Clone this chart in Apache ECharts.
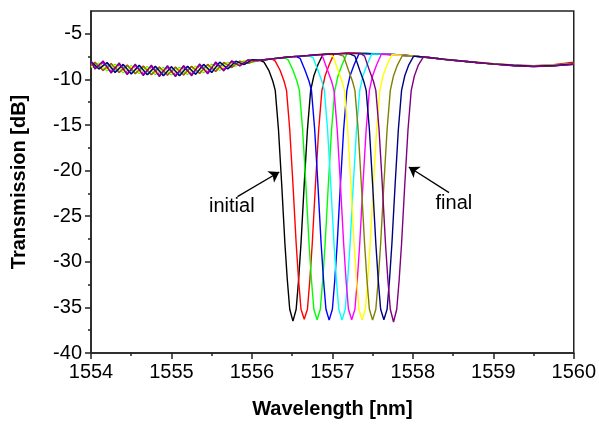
<!DOCTYPE html>
<html>
<head>
<meta charset="utf-8">
<script src="https://cdn.jsdelivr.net/npm/echarts@6/dist/echarts.min.js"></script>
<style>html,body{margin:0;padding:0;background:#fff;}#c{width:599px;height:424px;}</style>
</head>
<body>
<div id="c"></div>
<script>
// ---------- data (wavelength nm, transmission dB) ----------
const xTicks = [1554, 1555, 1556, 1557, 1558, 1559, 1560];
const yTicks = [-40, -35, -30, -25, -20, -15, -10, -5];
const yMinorTicks = [-37.5, -32.5, -27.5, -22.5, -17.5, -12.5, -7.5];

const seriesNames = ['s1','s2','s3','s4','s5','s6','s7','s8','s9','s10'];

const black = [[1554.0,-8.08],[1554.1,-8.82],[1554.2,-8.2],[1554.3,-9.2],[1554.4,-8.4],[1554.5,-9.35],[1554.6,-8.5],[1554.7,-9.45],[1554.8,-8.6],[1554.9,-9.55],[1555.0,-8.65],[1555.1,-9.55],[1555.2,-8.6],[1555.3,-9.4],[1555.4,-8.4],[1555.5,-9.2],[1555.6,-8.15],[1555.7,-8.81],[1555.8,-8.03],[1555.9,-8.35],[1556.0,-7.86],
[1556.1,-7.9],[1556.15,-8.1],[1556.21,-9.0],[1556.26,-10.2],[1556.29,-11.2],[1556.33,-15.5],[1556.37,-21.5],[1556.41,-28.0],[1556.44,-32.0],[1556.47,-35.2],[1556.51,-36.5],[1556.55,-35.2],[1556.58,-32.0],[1556.61,-28.0],[1556.65,-21.5],[1556.69,-15.5],[1556.73,-11.2],[1556.77,-9.6],[1556.82,-8.4],[1556.88,-7.3],
[1557.0,-7.2],[1557.2,-7.12],[1557.4,-7.15],[1557.6,-7.25],[1557.8,-7.3],[1558.0,-7.42],[1558.2,-7.6],[1558.4,-7.82],[1558.6,-7.98],[1558.8,-8.15],[1559.0,-8.3],[1559.25,-8.47],[1559.5,-8.55],[1559.75,-8.48],[1560.0,-8.3]];

const red = [[1554.0,-8.6],[1554.05,-8.13],[1554.15,-9.03],[1554.25,-8.25],[1554.35,-9.25],[1554.45,-8.43],[1554.55,-9.38],[1554.65,-8.53],[1554.75,-9.48],[1554.85,-8.63],[1554.95,-9.55],[1555.05,-8.65],[1555.15,-9.53],[1555.25,-8.55],[1555.35,-9.35],[1555.45,-8.35],[1555.55,-9.13],[1555.65,-8.13],[1555.75,-8.7],[1555.85,-8.0],[1555.95,-8.25],
[1556.05,-7.95],[1556.15,-7.85],[1556.25,-7.75],[1556.29,-8.0],[1556.35,-9.0],[1556.40,-10.2],[1556.43,-11.2],[1556.47,-15.5],[1556.51,-21.5],[1556.55,-28.0],[1556.58,-32.0],[1556.61,-35.2],[1556.65,-36.3],[1556.69,-35.2],[1556.72,-32.0],[1556.75,-28.0],[1556.79,-21.5],[1556.83,-15.5],[1556.87,-11.2],[1556.91,-9.6],[1556.96,-8.4],[1557.02,-7.2],
[1557.2,-7.1],[1557.4,-7.15],[1557.6,-7.2],[1557.8,-7.32],[1558.0,-7.45],[1558.2,-7.58],[1558.4,-7.8],[1558.6,-8.0],[1558.8,-8.12],[1559.0,-8.28],[1559.25,-8.42],[1559.5,-8.5],[1559.75,-8.4],[1560.0,-8.1]];

const green = [[1554.0,-8.68],[1554.1,-8.22],[1554.2,-9.05],[1554.3,-8.35],[1554.4,-9.25],[1554.5,-8.5],[1554.6,-9.35],[1554.7,-8.6],[1554.8,-9.45],[1554.9,-8.7],[1555.0,-9.5],[1555.1,-8.7],[1555.2,-9.45],[1555.3,-8.55],[1555.4,-9.25],[1555.5,-8.35],[1555.6,-9.0],[1555.7,-8.13],[1555.8,-8.54],[1555.9,-7.97],[1556.0,-8.12],
[1556.1,-7.9],[1556.2,-7.78],[1556.3,-7.68],[1556.4,-7.6],[1556.45,-7.85],[1556.51,-9.0],[1556.56,-10.2],[1556.59,-11.2],[1556.63,-15.5],[1556.67,-21.5],[1556.71,-28.0],[1556.74,-32.0],[1556.77,-35.2],[1556.81,-36.35],[1556.85,-35.2],[1556.88,-32.0],[1556.91,-28.0],[1556.95,-21.5],[1556.99,-15.5],[1557.03,-11.2],[1557.07,-9.6],[1557.12,-8.4],[1557.18,-7.2],
[1557.4,-7.12],[1557.6,-7.22],[1557.8,-7.3],[1558.0,-7.45],[1558.2,-7.62],[1558.4,-7.78],[1558.6,-7.95],[1558.8,-8.15],[1559.0,-8.32],[1559.25,-8.45],[1559.5,-8.52],[1559.75,-8.45],[1560.0,-8.25]];

const blue = [[1554.0,-8.2],[1554.05,-8.8],[1554.15,-8.08],[1554.25,-9.2],[1554.35,-8.3],[1554.45,-9.38],[1554.55,-8.43],[1554.65,-9.48],[1554.75,-8.53],[1554.85,-9.58],[1554.95,-8.6],[1555.05,-9.6],[1555.15,-8.58],[1555.25,-9.5],[1555.35,-8.4],[1555.45,-9.3],[1555.55,-8.18],[1555.65,-8.98],[1555.75,-8.03],[1555.85,-8.48],[1555.95,-7.9],
[1556.05,-7.95],[1556.15,-7.88],[1556.25,-7.75],[1556.35,-7.65],[1556.45,-7.55],[1556.55,-7.5],[1556.60,-7.7],[1556.66,-9.0],[1556.71,-10.2],[1556.74,-11.2],[1556.78,-15.5],[1556.82,-21.5],[1556.86,-28.0],[1556.89,-32.0],[1556.92,-35.2],[1556.96,-36.4],[1557.00,-35.2],[1557.03,-32.0],[1557.06,-28.0],[1557.10,-21.5],[1557.14,-15.5],[1557.18,-11.2],[1557.22,-9.6],[1557.27,-8.4],[1557.33,-7.2],
[1557.5,-7.18],[1557.7,-7.25],[1557.9,-7.35],[1558.1,-7.5],[1558.3,-7.7],[1558.5,-7.9],[1558.75,-8.12],[1559.0,-8.3],[1559.25,-8.48],[1559.5,-8.6],[1559.75,-8.5],[1560.0,-8.35]];

const cyan = [[1554.0,-8.15],[1554.1,-8.75],[1554.2,-8.3],[1554.3,-9.1],[1554.4,-8.5],[1554.5,-9.25],[1554.6,-8.6],[1554.7,-9.35],[1554.8,-8.7],[1554.9,-9.45],[1555.0,-8.75],[1555.1,-9.45],[1555.2,-8.7],[1555.3,-9.3],[1555.4,-8.5],[1555.5,-9.1],[1555.6,-8.25],[1555.7,-8.73],[1555.8,-8.09],[1555.9,-8.31],[1556.0,-7.9],
[1556.1,-7.88],[1556.2,-7.8],[1556.3,-7.7],[1556.4,-7.6],[1556.5,-7.5],[1556.6,-7.45],[1556.7,-7.38],[1556.76,-7.6],[1556.82,-9.0],[1556.87,-10.2],[1556.90,-11.2],[1556.94,-15.5],[1556.98,-21.5],[1557.02,-28.0],[1557.05,-32.0],[1557.08,-35.2],[1557.12,-36.4],[1557.16,-35.2],[1557.19,-32.0],[1557.22,-28.0],[1557.26,-21.5],[1557.30,-15.5],[1557.34,-11.2],[1557.38,-9.6],[1557.43,-8.4],[1557.49,-7.2],
[1557.7,-7.25],[1557.9,-7.38],[1558.1,-7.5],[1558.3,-7.72],[1558.5,-7.88],[1558.75,-8.1],[1559.0,-8.3],[1559.25,-8.45],[1559.5,-8.55],[1559.75,-8.45],[1560.0,-8.3]];

const magenta = [[1554.0,-8.3],[1554.05,-8.73],[1554.15,-8.18],[1554.25,-9.1],[1554.35,-8.4],[1554.45,-9.28],[1554.55,-8.53],[1554.65,-9.38],[1554.75,-8.63],[1554.85,-9.48],[1554.95,-8.7],[1555.05,-9.5],[1555.15,-8.68],[1555.25,-9.4],[1555.35,-8.5],[1555.45,-9.2],[1555.55,-8.28],[1555.65,-8.89],[1555.75,-8.1],[1555.85,-8.43],[1555.95,-7.93],
[1556.05,-7.95],[1556.15,-7.85],[1556.25,-7.75],[1556.35,-7.65],[1556.45,-7.55],[1556.55,-7.48],[1556.65,-7.42],[1556.75,-7.35],[1556.85,-7.28],[1556.88,-7.55],[1556.94,-9.0],[1556.99,-10.2],[1557.02,-11.2],[1557.06,-15.5],[1557.10,-21.5],[1557.14,-28.0],[1557.17,-32.0],[1557.20,-35.2],[1557.24,-36.35],[1557.28,-35.2],[1557.31,-32.0],[1557.34,-28.0],[1557.38,-21.5],[1557.42,-15.5],[1557.46,-11.2],[1557.50,-9.6],[1557.55,-8.4],[1557.61,-7.22],
[1557.8,-7.3],[1558.0,-7.43],[1558.2,-7.6],[1558.4,-7.8],[1558.6,-7.97],[1558.8,-8.15],[1559.0,-8.3],[1559.25,-8.45],[1559.5,-8.55],[1559.75,-8.5],[1560.0,-8.28]];

const yellow = [[1554.0,-8.61],[1554.1,-8.29],[1554.2,-8.95],[1554.3,-8.45],[1554.4,-9.15],[1554.5,-8.6],[1554.6,-9.25],[1554.7,-8.7],[1554.8,-9.35],[1554.9,-8.8],[1555.0,-9.4],[1555.1,-8.8],[1555.2,-9.35],[1555.3,-8.65],[1555.4,-9.15],[1555.5,-8.45],[1555.6,-8.9],[1555.7,-8.21],[1555.8,-8.48],[1555.9,-8.01],[1556.0,-8.09],
[1556.1,-7.9],[1556.2,-7.8],[1556.3,-7.7],[1556.4,-7.6],[1556.5,-7.5],[1556.6,-7.45],[1556.7,-7.38],[1556.8,-7.3],[1556.9,-7.25],[1556.95,-7.22],[1557.01,-7.5],[1557.07,-9.0],[1557.12,-10.2],[1557.15,-11.2],[1557.19,-15.5],[1557.23,-21.5],[1557.27,-28.0],[1557.30,-32.0],[1557.33,-35.2],[1557.37,-36.4],[1557.41,-35.2],[1557.44,-32.0],[1557.47,-28.0],[1557.51,-21.5],[1557.55,-15.5],[1557.59,-11.2],[1557.63,-9.6],[1557.68,-8.4],[1557.74,-7.3],
[1557.9,-7.37],[1558.1,-7.5],[1558.3,-7.7],[1558.5,-7.88],[1558.75,-8.1],[1559.0,-8.28],[1559.25,-8.45],[1559.5,-8.52],[1559.75,-8.45],[1560.0,-8.3]];

const olive = [[1554.0,-8.5],[1554.05,-8.17],[1554.15,-8.98],[1554.25,-8.3],[1554.35,-9.2],[1554.45,-8.48],[1554.55,-9.33],[1554.65,-8.58],[1554.75,-9.43],[1554.85,-8.68],[1554.95,-9.5],[1555.05,-8.7],[1555.15,-9.48],[1555.25,-8.6],[1555.35,-9.3],[1555.45,-8.4],[1555.55,-9.08],[1555.65,-8.17],[1555.75,-8.66],[1555.85,-8.03],[1555.95,-8.23],
[1556.05,-7.95],[1556.15,-7.85],[1556.25,-7.75],[1556.35,-7.65],[1556.45,-7.55],[1556.55,-7.48],[1556.65,-7.42],[1556.75,-7.35],[1556.85,-7.28],[1556.95,-7.22],[1557.05,-7.2],[1557.14,-7.45],[1557.20,-9.0],[1557.25,-10.2],[1557.28,-11.2],[1557.32,-15.5],[1557.36,-21.5],[1557.40,-28.0],[1557.43,-32.0],[1557.46,-35.2],[1557.50,-36.4],[1557.54,-35.2],[1557.57,-32.0],[1557.60,-28.0],[1557.64,-21.5],[1557.68,-15.5],[1557.72,-11.2],[1557.76,-9.6],[1557.81,-8.4],[1557.87,-7.38],
[1558.0,-7.45],[1558.2,-7.62],[1558.4,-7.8],[1558.6,-7.98],[1558.8,-8.15],[1559.0,-8.32],[1559.25,-8.48],[1559.5,-8.58],[1559.75,-8.5],[1560.0,-8.35]];

const navy = [[1554.0,-8.05],[1554.1,-8.85],[1554.2,-8.15],[1554.3,-9.25],[1554.4,-8.35],[1554.5,-9.4],[1554.6,-8.45],[1554.7,-9.5],[1554.8,-8.55],[1554.9,-9.6],[1555.0,-8.6],[1555.1,-9.6],[1555.2,-8.55],[1555.3,-9.45],[1555.4,-8.35],[1555.5,-9.25],[1555.6,-8.1],[1555.7,-8.85],[1555.8,-8.0],[1555.9,-8.38],[1556.0,-7.85],
[1556.1,-7.9],[1556.2,-7.8],[1556.3,-7.7],[1556.4,-7.6],[1556.5,-7.5],[1556.6,-7.45],[1556.7,-7.38],[1556.8,-7.3],[1556.9,-7.25],[1557.0,-7.2],[1557.1,-7.17],[1557.2,-7.15],[1557.28,-7.45],[1557.34,-9.0],[1557.39,-10.2],[1557.42,-11.2],[1557.46,-15.5],[1557.50,-21.5],[1557.54,-28.0],[1557.57,-32.0],[1557.60,-35.2],[1557.64,-36.35],[1557.68,-35.2],[1557.71,-32.0],[1557.74,-28.0],[1557.78,-21.5],[1557.82,-15.5],[1557.86,-11.2],[1557.90,-9.6],[1557.95,-8.4],[1558.01,-7.45],
[1558.2,-7.6],[1558.4,-7.8],[1558.6,-7.97],[1558.8,-8.15],[1559.0,-8.3],[1559.25,-8.45],[1559.5,-8.55],[1559.75,-8.48],[1560.0,-8.3]];

const purple = [[1554.0,-8.0],[1554.05,-8.87],[1554.15,-7.98],[1554.25,-9.3],[1554.35,-8.2],[1554.45,-9.48],[1554.55,-8.33],[1554.65,-9.58],[1554.75,-8.43],[1554.85,-9.68],[1554.95,-8.5],[1555.05,-9.7],[1555.15,-8.48],[1555.25,-9.6],[1555.35,-8.3],[1555.45,-9.4],[1555.55,-8.08],[1555.65,-9.07],[1555.75,-7.96],[1555.85,-8.53],[1555.95,-7.86],
[1556.05,-7.95],[1556.15,-7.85],[1556.25,-7.75],[1556.35,-7.65],[1556.45,-7.55],[1556.55,-7.48],[1556.65,-7.42],[1556.75,-7.35],[1556.85,-7.28],[1556.95,-7.22],[1557.05,-7.2],[1557.15,-7.17],[1557.25,-7.15],[1557.35,-7.16],[1557.40,-7.45],[1557.46,-9.0],[1557.51,-10.2],[1557.54,-11.2],[1557.58,-15.5],[1557.62,-21.5],[1557.66,-28.0],[1557.69,-32.0],[1557.72,-35.2],[1557.76,-36.6],[1557.80,-35.2],[1557.83,-32.0],[1557.86,-28.0],[1557.90,-21.5],[1557.94,-15.5],[1557.98,-11.2],[1558.02,-9.6],[1558.07,-8.4],[1558.13,-7.55],
[1558.3,-7.72],[1558.5,-7.9],[1558.75,-8.12],[1559.0,-8.33],[1559.25,-8.5],[1559.5,-8.6],[1559.75,-8.52],[1560.0,-8.35]];

const allData = [black, red, green, blue, cyan, magenta, yellow, olive, navy, purple];
const colors = ['#000000','#ff0000','#00ff00','#0000ff','#00ffff','#ff00ff','#ffff00','#808000','#000080','#800080'];

// annotation anchors (data coordinates)
const initialText = [1555.75, -23.9];
const initialArrow = [[1555.82, -22.85], [1556.34, -20.16]];
const finalText = [1558.51, -23.6];
const finalArrow = [[1558.45, -22.42], [1557.95, -19.6]];

// ---------- chart ----------
const FONT = 'Liberation Sans, Arial, sans-serif';
const chart = echarts.init(document.getElementById('c'), null, {renderer: 'canvas'});

const series = allData.map((d, i) => ({
  name: seriesNames[i],
  type: 'line',
  data: d,
  showSymbol: false,
  symbol: 'none',
  lineStyle: {color: colors[i], width: 1.4},
  itemStyle: {color: colors[i]},
  z: 2 + i,
  animation: false
}));

function annot(textPos, text, arrow) {
  return {
    markLine: {
      silent: true, animation: false,
      symbol: ['none', 'arrow'], symbolSize: 10,
      itemStyle: {color: '#000'},
      lineStyle: {color: '#000', width: 1.3, type: 'solid'},
      label: {show: false},
      emphasis: {disabled: true},
      data: [[{coord: arrow[0], symbol: 'none'}, {coord: arrow[1], symbol: 'arrow', symbolSize: 10}]]
    },
    markPoint: {
      silent: true, animation: false,
      symbol: 'circle', symbolSize: 0,
      label: {show: true, position: 'inside', formatter: text, color: '#000', fontSize: 20, fontFamily: FONT},
      data: [{coord: textPos}]
    }
  };
}
Object.assign(series[0], annot(initialText, 'initial', initialArrow));
Object.assign(series[9], annot(finalText, 'final', finalArrow));

chart.setOption({
  animation: false,
  backgroundColor: '#fff',
  grid: {left: 91, right: 24, top: 11, bottom: 65, show: true, borderColor: '#222', borderWidth: 1.5, backgroundColor: 'transparent'},
  xAxis: {
    type: 'value', min: xTicks[0], max: xTicks[xTicks.length - 1], interval: 1,
    name: 'Wavelength [nm]', nameLocation: 'middle', nameGap: 46,
    nameTextStyle: {fontSize: 20, fontWeight: 'bold', color: '#000', fontFamily: FONT},
    axisLine: {show: true, lineStyle: {color: '#222', width: 1.5}},
    axisTick: {show: true, inside: false, length: 6, lineStyle: {color: '#222', width: 1.5}},
    minorTick: {show: true, splitNumber: 2, length: 3, lineStyle: {color: '#222', width: 1.5}},
    axisLabel: {fontSize: 20, color: '#000', margin: 9, fontFamily: FONT, formatter: v => String(v)},
    splitLine: {show: false}, minorSplitLine: {show: false}
  },
  yAxis: [{
    type: 'value', min: -40, max: -2.5,
    name: 'Transmission [dB]', nameLocation: 'middle', nameGap: 62,
    nameTextStyle: {fontSize: 20, fontWeight: 'bold', color: '#000', fontFamily: FONT},
    axisLine: {show: true, lineStyle: {color: '#222', width: 1.5}},
    axisTick: {show: true, inside: false, length: 6, customValues: yTicks, lineStyle: {color: '#222', width: 1.5}},
    axisLabel: {fontSize: 20, color: '#000', margin: 9, customValues: yTicks, fontFamily: FONT},
    splitLine: {show: false}
  }, {
    type: 'value', min: -40, max: -2.5, position: 'left',
    axisLine: {show: false},
    axisTick: {show: true, inside: false, length: 3, customValues: yMinorTicks, lineStyle: {color: '#222', width: 1.5}},
    axisLabel: {show: false},
    splitLine: {show: false}
  }],
  series: series
});
</script>
</body>
</html>
